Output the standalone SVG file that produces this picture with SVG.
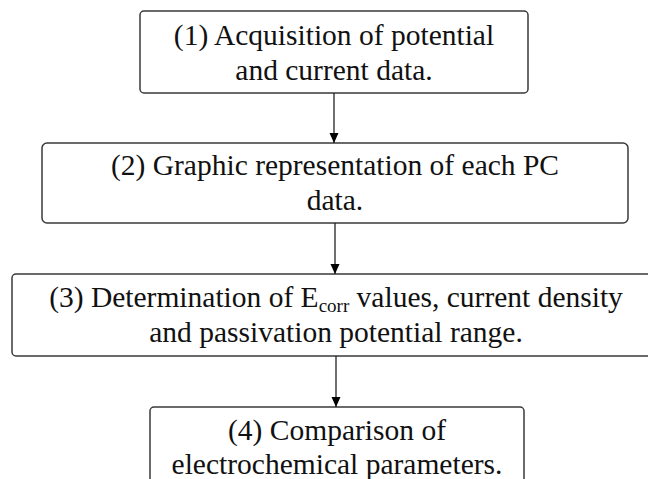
<svg xmlns="http://www.w3.org/2000/svg" width="648" height="479" viewBox="0 0 648 479">
<defs>
<marker id="arr" markerWidth="11" markerHeight="11" refX="10" refY="5" orient="auto" markerUnits="userSpaceOnUse">
<path d="M0,0.5 L10,5 L0,9.5 Z" fill="#000"/>
</marker>
<style>
.box{fill:#fff;stroke:#3a3a3a;stroke-width:1.5}
.t{font-family:'Liberation Serif','Times New Roman',Times,serif;font-size:29.5px;fill:#111;text-anchor:middle}
.c{stroke:#222;stroke-width:1.3;fill:none}
</style>
</defs>
<rect width="648" height="479" fill="#fff"/>
<g id="n1">
<rect class="box" x="140" y="11" width="388" height="82" rx="4"/>
<text class="t" x="334" y="45">(1) Acquisition of potential</text>
<text class="t" x="334" y="80">and current data.</text>
</g>
<g id="n2">
<rect class="box" x="42" y="143" width="586" height="80" rx="5"/>
<text class="t" x="335" y="175">(2) Graphic representation of each PC</text>
<text class="t" x="335" y="210">data.</text>
</g>
<g id="n3">
<rect class="box" x="12" y="274" width="650" height="82" rx="4"/>
<text class="t" x="336" y="307">(3) Determination of E<tspan font-size="19" dy="5">corr</tspan><tspan dy="-5"> values, current density</tspan></text>
<text class="t" x="336" y="342">and passivation potential range.</text>
</g>
<g id="n4">
<rect class="box" x="150" y="407" width="374" height="90" rx="4"/>
<text class="t" x="337" y="440">(4) Comparison of</text>
<text class="t" x="337" y="474">electrochemical parameters.</text>
</g>
<g id="connectors">
<line class="c" x1="334" y1="93" x2="334" y2="143" marker-end="url(#arr)"/>
<line class="c" x1="335" y1="223" x2="335" y2="274" marker-end="url(#arr)"/>
<line class="c" x1="336" y1="356" x2="336" y2="407" marker-end="url(#arr)"/>
</g>
</svg>
